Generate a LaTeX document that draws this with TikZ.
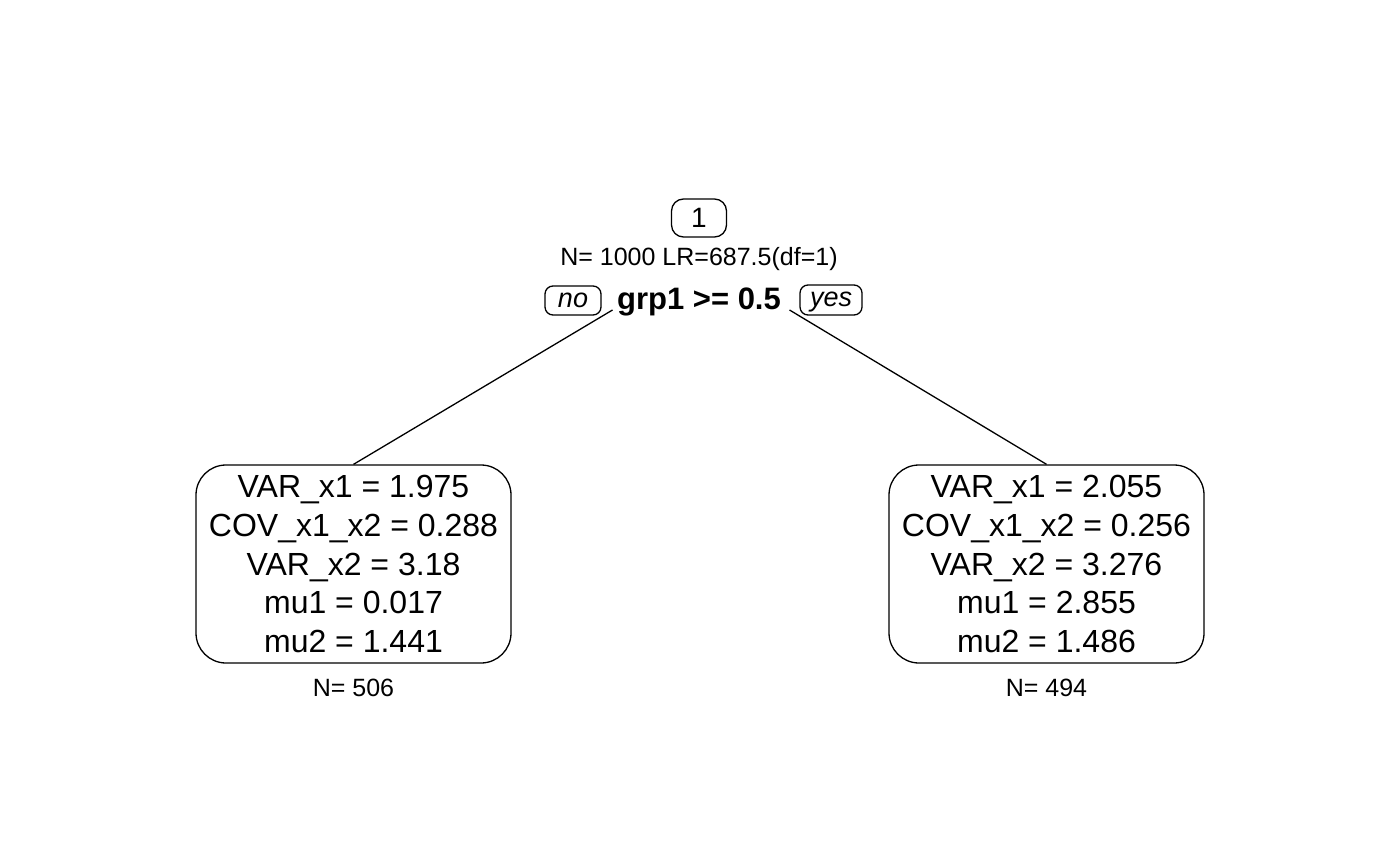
\documentclass[tikz,border=0pt]{standalone}
\usepackage{fontspec}
\setmainfont{Liberation Sans}
\usetikzlibrary{positioning}

\begin{document}
\begin{tikzpicture}[x=0.5pt,y=-0.5pt,line width=0.65pt,
	leaf/.style={draw,rounded corners=15pt,minimum width=157.5pt,minimum height=99pt,inner sep=0pt,align=center,font=\fontsize{16}{19.4}\selectfont},
	tag/.style={draw,rounded corners=4pt,inner sep=0pt,text height=10pt,text depth=3pt,font=\fontsize{13.5}{16}\selectfont\itshape},
	info/.style={inner sep=0pt,font=\fontsize{12.5}{15}\selectfont}]
	\useasboundingbox (0,0) rectangle (1400,865);

	% root
	\node[draw,rounded corners=6pt,minimum width=27.5pt,minimum height=19pt,inner sep=0pt,font=\fontsize{14}{16}\selectfont] (root) at (699,218) {1};
	\node[info] (rootinfo) at (699,259) {N= 1000 LR=687.5(df=1)};
	\node[inner sep=0pt,anchor=base,font=\fontsize{15.5}{18}\selectfont\bfseries] (split) at (699,310) {grp1 >= 0.5};
	\node[tag,minimum width=28pt,minimum height=14.5pt] (no) at (573,300.5) {no};
	\node[tag,minimum width=31pt,minimum height=15pt] (yes) at (831,300) {yes};

	% leaves
	\foreach \name/\x/\va/\cov/\vb/\ma/\mb/\n in {leafL/353.5/1.975/0.288/3.18/0.017/1.441/506,leafR/1046.5/2.055/0.256/3.276/2.855/1.486/494}{
			\node[leaf] (\name) at (\x,564) {VAR\_x1 = \va\\COV\_x1\_x2 = \cov\\VAR\_x2 = \vb\\mu1 = \ma\\mu2 = \mb};
			\node[info] (\name n) at (\x,688) {N= \n};
		}

	\draw ([xshift=-2pt]split.base west) -- (leafL.north);
	\draw ([xshift=4pt]split.base east) -- (leafR.north);
\end{tikzpicture}
\end{document}
